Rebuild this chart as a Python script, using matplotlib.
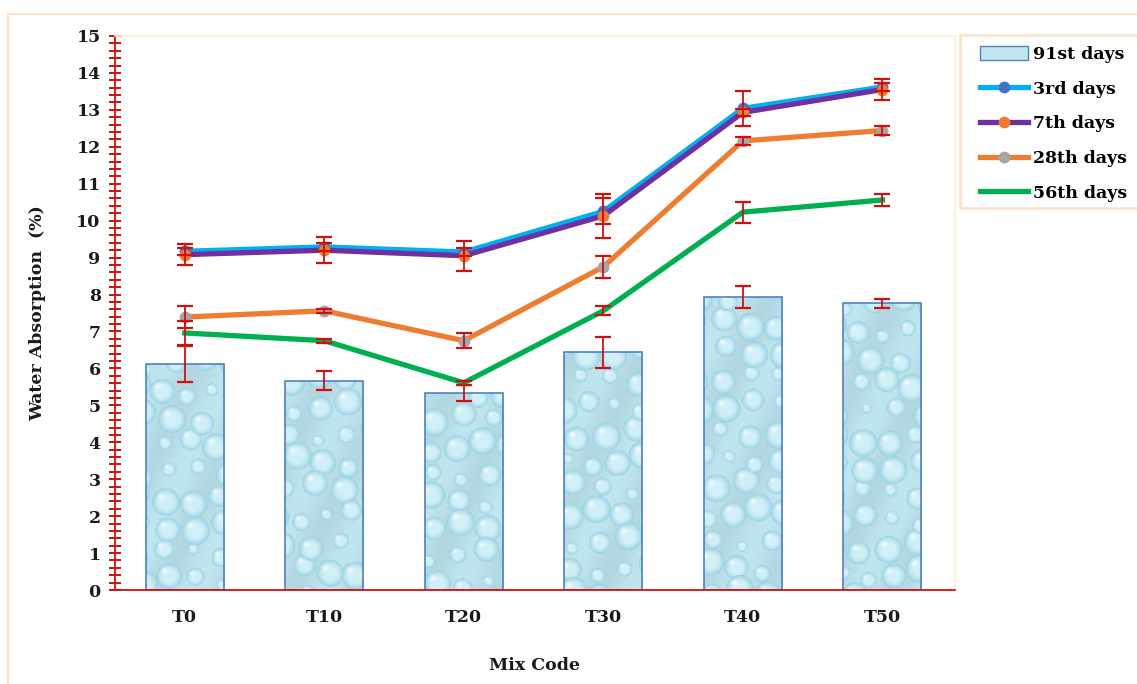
import numpy as np
import matplotlib
matplotlib.use("Agg")
import matplotlib.pyplot as plt
from matplotlib.lines import Line2D
from matplotlib.patches import Patch, Rectangle

# ---- data -------------------------------------------------------------
mix_codes = ["T0", "T10", "T20", "T30", "T40", "T50"]

day91 = [6.12, 5.67, 5.34, 6.44, 7.94, 7.76]
err91 = [0.50, 0.26, 0.21, 0.42, 0.30, 0.13]

day3 = [9.17, 9.29, 9.15, 10.25, 13.04, 13.62]
err3 = [0.10, 0.10, 0.10, 0.35, 0.47, 0.10]

day7 = [9.08, 9.20, 9.05, 10.13, 12.93, 13.55]
err7 = [0.28, 0.35, 0.40, 0.60, 0.10, 0.28]

day28 = [7.39, 7.56, 6.75, 8.75, 12.16, 12.44]
err28 = [0.29, 0.05, 0.20, 0.29, 0.10, 0.13]

day56 = [6.96, 6.75, 5.61, 7.56, 10.23, 10.56]
err56 = [0.33, 0.05, 0.05, 0.12, 0.28, 0.15]

y_ticks = list(range(0, 16))

# ---- style ------------------------------------------------------------
FONT = "DejaVu Serif"
plt.rcParams["font.family"] = [FONT, "DejaVu Sans"]
plt.rcParams["font.weight"] = "bold"

C3, C7, C28, C56 = "#00b0f0", "#7030a0", "#ed7d31", "#00b050"
M3, M7, M28 = "#4472c4", "#ed7d31", "#a5a5a5"
ERR = "#d01010"
PEACH = "#fbe3c6"


def bubble_texture(w_px, h_px, phase):
    """Water-droplet look used to fill the bars."""
    h_px = max(int(h_px), 2)
    yy, xx = np.mgrid[0:h_px, 0:w_px].astype(float)
    img = np.empty((h_px, w_px, 3))
    img[:] = np.array([0.75, 0.90, 0.94])
    img *= (0.97 + 0.03 * np.sin(xx / 11.0 + yy / 23.0 + phase))[..., None]
    sp = 27.0
    dark = np.array([0.60, 0.82, 0.89])
    light = np.array([0.82, 0.94, 0.97])
    for i in range(-1, int(w_px / sp) + 2):
        for j in range(-1, int(h_px / sp) + 2):
            cx = i * sp + (j % 2) * sp / 2 + 6 * np.sin(12.99 * i + 78.2 * j + phase)
            cy = j * sp + 6 * np.cos(39.3 * i + 11.1 * j + phase)
            r = 5.0 + 9.0 * abs(np.sin(3.7 * i + 5.3 * j + phase))
            d = np.hypot(xx - cx, yy - cy) / r
            inside = d < 1.0
            if not inside.any():
                continue
            ring = np.clip((d - 0.45) / 0.55, 0, 1) ** 1.5
            col = light[None, None, :] * (1 - ring[..., None]) + dark[None, None, :] * ring[..., None]
            img[inside] = col[inside]
            hl = np.exp(-((xx - (cx - 0.35 * r)) ** 2 + (yy - (cy - 0.4 * r)) ** 2) / (0.2 * r) ** 2)
            hl = 0.8 * hl * inside
            img = img * (1 - hl[..., None]) + hl[..., None] * 1.0
    return np.clip(img, 0, 1)


fig = plt.figure(figsize=(11.37, 6.84), dpi=100)
ax = fig.add_axes([0.1011, 0.1374, 0.7388, 0.81])

x = np.arange(len(mix_codes))
bar_w = 0.56

bars = ax.bar(x, day91, width=bar_w, facecolor="none", edgecolor="#4f81bd",
              linewidth=1.2, zorder=2)
px_per_unit = 554 / 15.0
for k, (rect, v) in enumerate(zip(bars, day91)):
    tex = bubble_texture(78, v * px_per_unit, phase=1.3 * k)
    im = ax.imshow(tex, extent=(x[k] - bar_w / 2, x[k] + bar_w / 2, 0, v),
                   origin="upper", aspect="auto", interpolation="bilinear",
                   zorder=1.5)
    im.set_clip_path(rect)

eb_kw = dict(fmt="none", ecolor=ERR, elinewidth=1.3, capsize=6, capthick=1.6)
ax.errorbar(x, day91, yerr=err91, zorder=3, **eb_kw)

lw = 3.8
ms = 7.5
ax.plot(x, day3, color=C3, lw=lw, marker="o", ms=ms, mfc=M3, mec=M3, zorder=4)
ax.plot(x, day7, color=C7, lw=lw, marker="o", ms=ms, mfc=M7, mec=M7, zorder=4.1)
ax.plot(x, day28, color=C28, lw=lw, marker="o", ms=ms, mfc=M28, mec=M28, zorder=4)
ax.plot(x, day56, color=C56, lw=lw, zorder=4)

for vals, errs in [(day3, err3), (day7, err7), (day28, err28), (day56, err56)]:
    ax.errorbar(x, vals, yerr=errs, zorder=5, **eb_kw)

ax.set_xlim(-0.5, 5.52)
ax.set_ylim(0, 15)

ax.set_yticks(y_ticks)
ax.set_yticks(np.arange(0, 15.01, 0.2), minor=True)
ax.set_xticks(x)
ax.set_xticklabels(mix_codes)

ax.tick_params(axis="y", which="both", direction="inout", length=8.5,
               width=1.4, color=ERR, labelsize=12.5, pad=6)
ax.tick_params(axis="x", which="both", length=0, labelsize=12.5, pad=14)
for lab in ax.get_xticklabels() + ax.get_yticklabels():
    lab.set_fontweight("bold")
    lab.set_color("#1a1a1a")

for side in ("left", "bottom"):
    ax.spines[side].set_color(ERR)
    ax.spines[side].set_linewidth(1.3)
for side in ("top", "right"):
    ax.spines[side].set_color("#fdf1d6")
    ax.spines[side].set_linewidth(1.2)

ax.set_ylabel("Water Absorption  (%)", fontsize=12.5, fontweight="bold",
              labelpad=22, color="#1a1a1a")
ax.set_xlabel("Mix Code", fontsize=12.5, fontweight="bold", labelpad=22,
              color="#1a1a1a")

# legend box
fig.add_artist(Rectangle((960 / 1137, 1 - 208 / 684), 200 / 1137, 173 / 684,
                         transform=fig.transFigure, facecolor="white",
                         edgecolor=PEACH, linewidth=1.8, zorder=0.5))
handles = [
    Patch(facecolor="#bfe6f0", edgecolor="#4f81bd", linewidth=1.0),
    Line2D([], [], color=C3, lw=lw, marker="o", ms=ms, mfc=M3, mec=M3),
    Line2D([], [], color=C7, lw=lw, marker="o", ms=ms, mfc=M7, mec=M7),
    Line2D([], [], color=C28, lw=lw, marker="o", ms=ms, mfc=M28, mec=M28),
    Line2D([], [], color=C56, lw=lw),
]
labels = ["91st days", "3rd days", "7th days", "28th days", "56th days"]
leg = fig.legend(handles, labels, loc="upper left",
                 bbox_to_anchor=(980 / 1137, 1 - 46 / 684),
                 frameon=False, fontsize=12.5,
                 handlelength=2.75, handleheight=0.8, labelspacing=1.02,
                 handletextpad=0.3, borderpad=0, borderaxespad=0)
for t in leg.get_texts():
    t.set_fontweight("bold")

# thin outer frame of the chart area
fig.add_artist(Line2D([8 / 1137, 8 / 1137], [0, 1 - 14 / 684],
                      transform=fig.transFigure, color=PEACH, lw=1.5))
fig.add_artist(Line2D([8 / 1137, 1], [1 - 14 / 684, 1 - 14 / 684],
                      transform=fig.transFigure, color=PEACH, lw=1.5))

fig.savefig("out.png", dpi=100)
